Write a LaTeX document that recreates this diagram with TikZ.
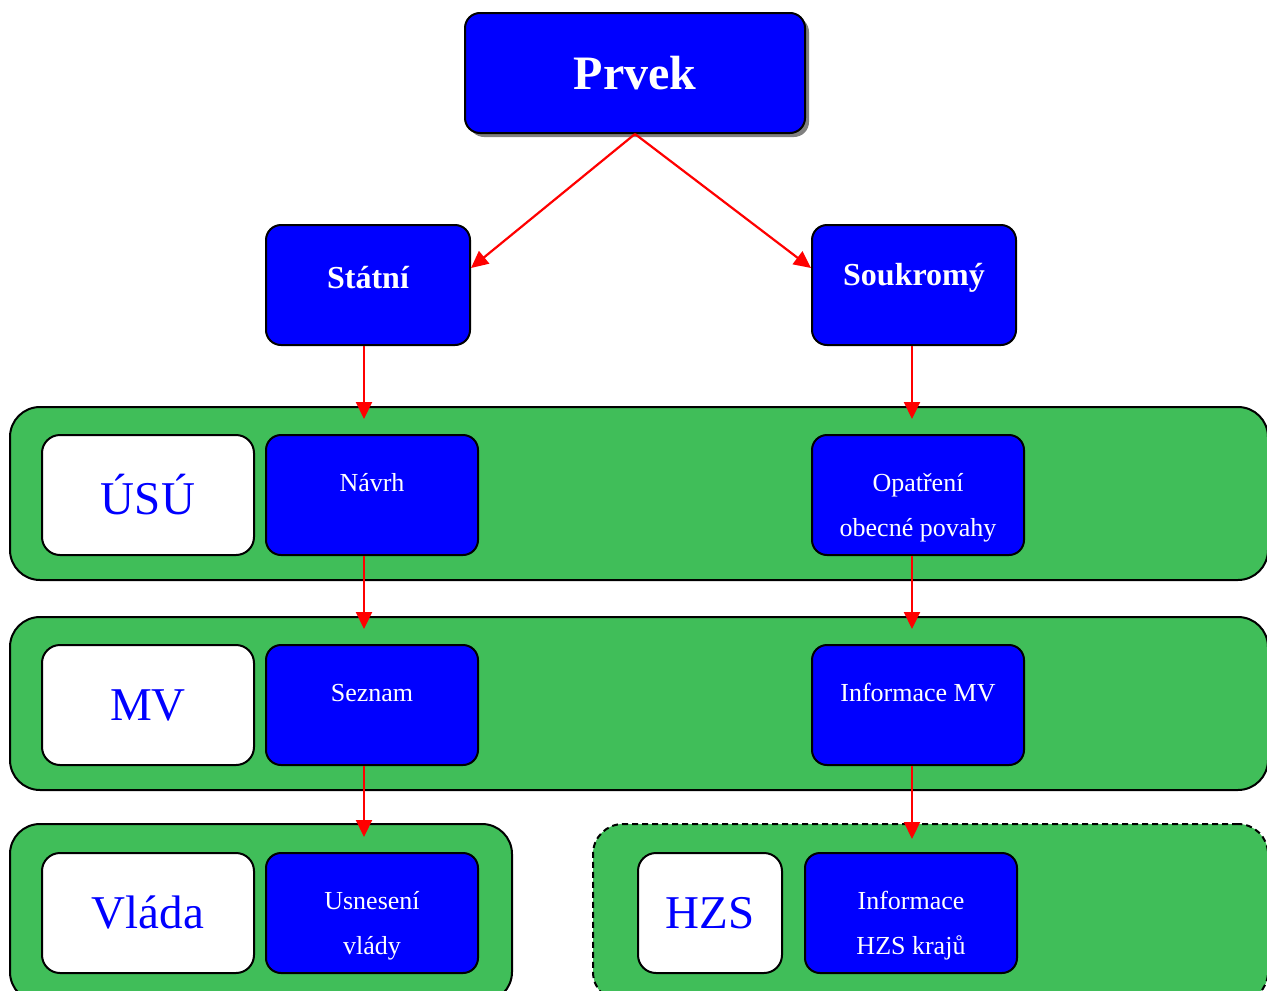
\documentclass[tikz,border=0pt]{standalone}
\usepackage{fontspec}
\setmainfont{Liberation Serif}
\usetikzlibrary{arrows.meta,shadows}
\definecolor{zelena}{RGB}{64,190,89}

\begin{document}
\begin{tikzpicture}[x=1pt,y=-1pt,
		prvek/.style={draw=black,line width=2pt,fill=blue,rounded corners=15pt,minimum width=340pt,minimum height=120pt,text=white,font=\fontsize{48}{52}\selectfont\bfseries,drop shadow={shadow xshift=4pt,shadow yshift=-4pt,fill=black!50,opacity=1}},
		druh/.style={draw=black,line width=2pt,fill=blue,rounded corners=15pt,minimum width=204pt,minimum height=120pt,inner sep=0pt},
		modry/.style={draw=black,line width=2pt,fill=blue,rounded corners=15pt,minimum width=212pt,minimum height=120pt,inner sep=0pt},
		bily/.style={draw=black,line width=2pt,fill=white,rounded corners=18pt,minimum width=212pt,minimum height=120pt,inner sep=0pt,text=blue,font=\fontsize{47}{50}\selectfont},
		pas/.style={draw=black,line width=2pt,fill=zelena,rounded corners=30pt,inner sep=0pt},
		popis/.style={text=white,align=center,anchor=center,inner sep=0pt,font=\fontsize{26}{45}\selectfont},
		nadpis/.style={text=white,anchor=center,inner sep=0pt,yshift=7pt,font=\fontsize{32}{36}\selectfont\bfseries},
		sipka/.style={red,line width=2.2pt,-{Triangle[length=17pt,width=16pt]}}]
	\clip (0,0) rectangle (1267,991);

	\node[prvek] (prvek) at (635,73) {Prvek};
	\node[druh,label={[nadpis]center:Státní}] (statni) at (368,285) {};
	\node[druh,label={[nadpis]center:Soukromý}] (soukromy) at (914,285) {};

	% urovne
	\node[pas,minimum width=1258pt,minimum height=173pt] (pas1) at (639,493.5) {};
	\node[pas,minimum width=1258pt,minimum height=173pt] (pas2) at (639,703.5) {};
	\node[pas,minimum width=502pt,minimum height=178pt] (pas3) at (261,913) {};
	\node[pas,dash pattern=on 6pt off 4pt,minimum width=675pt,minimum height=178pt] (pas4) at (930.5,913) {};

	\node[bily] (usu) at (148,495) {ÚSÚ};
	\node[bily] (mv) at (148,705) {MV};
	\node[bily] (vlada) at (148,913) {Vláda};
	\node[bily,minimum width=144pt] (hzs) at (710,913) {HZS};

	\node[modry,label={[popis,yshift=12pt]center:Návrh}] (navrh) at (372,495) {};
	\node[modry,label={[popis,yshift=-13pt]center:{Opatření\\obecné povahy}}] (opatreni) at (918,495) {};
	\node[modry,label={[popis,yshift=12pt]center:Seznam}] (seznam) at (372,705) {};
	\node[modry,label={[popis,yshift=12pt]center:Informace MV}] (infomv) at (918,705) {};
	\node[modry,label={[popis,yshift=-13pt]center:{Usnesení\\vlády}}] (usneseni) at (372,913) {};
	\node[modry,label={[popis,yshift=-13pt]center:{Informace\\HZS krajů}}] (infohzs) at (911,913) {};

	\draw[sipka] (prvek.south) -- ([yshift=17pt]statni.east);
	\draw[sipka] (prvek.south) -- ([yshift=17pt]soukromy.west);

	\draw[sipka,shorten >=15pt] ([xshift=-4pt]statni.south) -- ([xshift=-4pt]statni.south |- navrh.north);
	\draw[sipka,shorten >=15pt] ([xshift=-4pt]navrh.south -| statni.south) -- ([xshift=-4pt]statni.south |- seznam.north);
	\draw[sipka,shorten >=15pt] ([xshift=-4pt]seznam.south -| statni.south) -- ([xshift=-4pt]statni.south |- usneseni.north);
	\draw[sipka,shorten >=15pt] ([xshift=-2pt]soukromy.south) -- ([xshift=-2pt]soukromy.south |- opatreni.north);
	\draw[sipka,shorten >=15pt] ([xshift=-2pt]opatreni.south -| soukromy.south) -- ([xshift=-2pt]soukromy.south |- infomv.north);
	\draw[sipka,shorten >=13pt] ([xshift=-2pt]infomv.south -| soukromy.south) -- ([xshift=-2pt]soukromy.south |- infohzs.north);
\end{tikzpicture}
\end{document}
